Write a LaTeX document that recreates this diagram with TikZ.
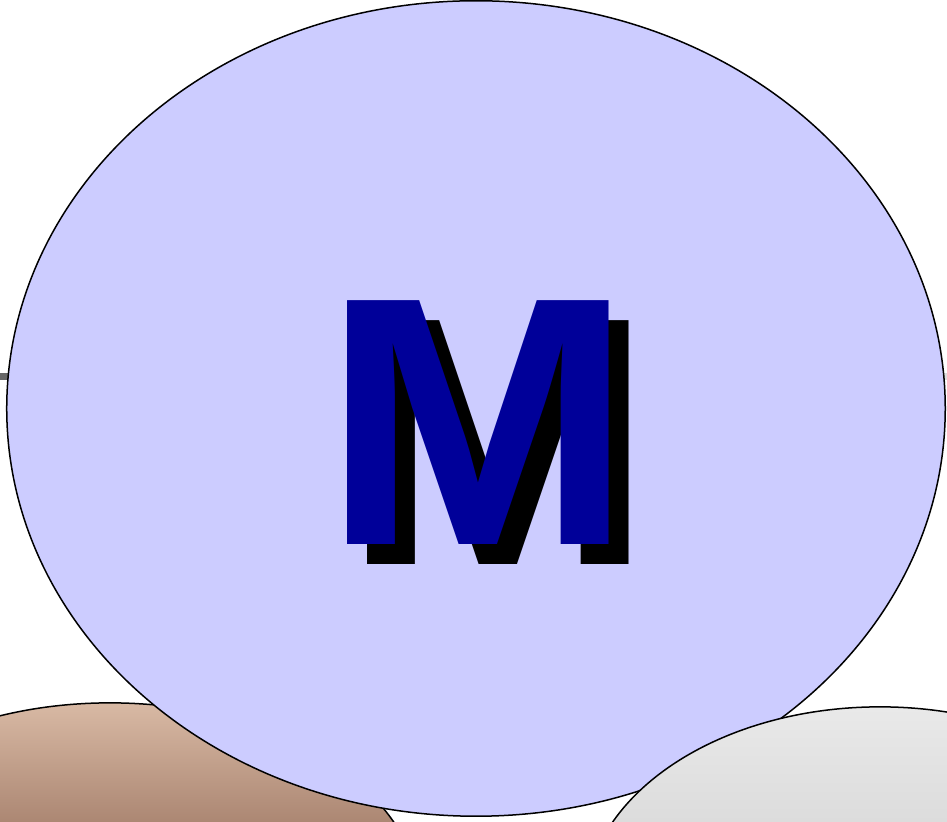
\documentclass[tikz,border=0pt]{standalone}
\usepackage{fontspec}
\newfontfamily\letterfont{Liberation Sans}
\usetikzlibrary{positioning}
\definecolor{paleblue}{HTML}{CCCCFF}
\definecolor{deepblue}{HTML}{000099}
\definecolor{tantop}{HTML}{D8B9A4}
\definecolor{tanbottom}{HTML}{AC8773}
\definecolor{greytop}{HTML}{E9E9E9}
\definecolor{greybottom}{HTML}{DCDCDC}
\tikzset{
  letter/.style={inner sep=0pt, xscale=1.055, font=\letterfont\bfseries\fontsize{100.8}{104}\selectfont},
  rim/.style={draw=black, line width=0.015cm}
}

\begin{document}
\begin{tikzpicture}[x=0.01cm, y=-0.01cm]
    \useasboundingbox (0,0) rectangle (947,822);

    % Bar behind the disc
    \coordinate (barL) at (0,376.5);
    \coordinate (barM) at (476,376.5);
    \coordinate (barR) at (947,376.5);
    \draw[line width=0.07cm, draw=black!60] (barL) -- (barM);
    \draw[line width=0.07cm, draw=black!13] (barM) -- (barR);

    % Brown disc, lower left
    \begin{scope}
        \clip (110,903) ellipse [x radius=3.1cm, y radius=2cm];
        \shade[top color=tantop, bottom color=tanbottom] (-200,703) rectangle (500,822);
    \end{scope}
    \draw[rim] (110,903) ellipse [x radius=3.1cm, y radius=2cm];

    % Main disc
    \draw[rim, fill=paleblue] (476,408.5) ellipse [x radius=4.69cm, y radius=4.075cm];
    \node[letter, text=black] (shadow) at (498,443) {M};
    \node[letter, text=deepblue] (mark) at (478,423) {M};

    % Grey disc, lower right
    \begin{scope}
        \clip (880,907) ellipse [x radius=2.95cm, y radius=2cm];
        \shade[top color=greytop, bottom color=greybottom] (500,707) rectangle (1200,822);
    \end{scope}
    \draw[rim] (880,907) ellipse [x radius=2.95cm, y radius=2cm];
\end{tikzpicture}
\end{document}
